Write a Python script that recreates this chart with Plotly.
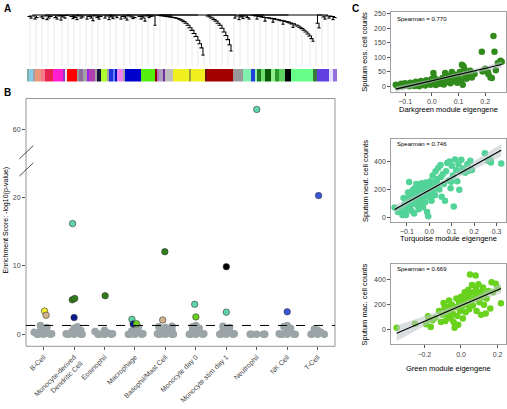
import numpy as np
import plotly.graph_objects as go

W, H = 507, 409
FONT = "Liberation Sans, Arial, Helvetica, sans-serif"


def px(x):
    return x / W


def py(y):
    return 1 - y / H


# ---------------- Panel A data: module colour bar and dendrogram ----------------
module_colors = ["#7fb0a6", "#87cdea", "#a3a3a3", "#e9967a", "#f47a8c", "#e8254f", "#ff1fd0", "#9932cc",
                 "#e6e6e6", "#ff0000", "#9a9a9a", "#8b6f9a", "#a3a3a3", "#a020f0", "#b040b0", "#a3a3a3",
                 "#14143c", "#adff2f", "#a3a3a3", "#2030e0", "#6080ff", "#0010c0", "#ee82ee", "#a3a3a3",
                 "#0000cd", "#55ee11", "#8b0000", "#c070c0", "#b0a0c0", "#7030a0", "#bebebe", "#f0f020",
                 "#a0a040", "#f0f020", "#701010", "#a40000", "#999999", "#80f0b0", "#2040e0", "#90f0b0",
                 "#1f7a1f", "#6fe06f", "#0a5a0a", "#8fef8f", "#2a9a2a", "#60d060", "#000000", "#66ff88",
                 "#3a7a3a", "#6040e0", "#e8e0ff", "#9370db"]
module_sizes = [1, 2, 1, 3, 2, 4, 5, 1, 1, 5, 1, 2, 2, 1, 3, 1, 2, 3, 1, 2, 1, 1, 3, 1, 8, 7, 1, 1, 2, 1,
                4, 8, 1, 7, 1, 13, 5, 4, 2, 1, 2, 2, 3, 2, 2, 3, 3, 11, 2, 6, 2, 2]

# merge heights between neighbouring leaves (1 - TOM)
fringe_left = [0.985, 0.97, 0.99, 0.96, 0.975, 1.0, 0.98, 0.965, 0.99, 0.955,
               0.97, 0.985, 1.0, 0.975, 0.96, 0.99, 0.95, 0.98, 0.97, 0.995,
               1.0, 0.985, 0.965, 0.975, 0.955, 0.99, 0.97, 0.98, 1.0, 0.96,
               0.985, 0.97, 0.945, 0.99, 0.975, 0.96, 0.985, 1.0, 0.97, 0.99,
               0.955, 0.98, 0.965, 0.99, 0.975, 1.0, 0.96, 0.985, 0.97, 0.95,
               0.99, 0.98, 0.965, 0.975, 1.0, 0.985, 0.96, 0.97, 0.94, 0.99,
               0.975, 0.985]
spike_left = [0.99, 0.90]
arc_yellow = [0.995, 0.992, 0.99, 0.987, 0.984, 0.981, 0.978, 0.975, 0.971, 0.966, 0.958, 0.948,
              0.935, 0.92, 0.9, 0.875, 0.85, 0.82, 0.79, 0.755, 0.72, 0.68, 0.61]
arc_darkred = [0.99, 0.98, 0.97, 0.955, 0.94, 0.92, 0.9, 0.87, 0.835, 0.8, 0.76, 0.71, 0.65]
fringe_mid = [0.97, 0.99, 0.955, 0.98, 0.965, 0.99, 0.975, 0.96]
arc_green = [0.995, 0.99, 0.96, 0.985, 0.98, 0.976, 0.94, 0.972, 0.968, 0.964, 0.93, 0.959, 0.954,
             0.949, 0.943, 0.91, 0.937, 0.93, 0.922, 0.913, 0.88, 0.903, 0.892, 0.88, 0.867, 0.852,
             0.835, 0.815, 0.795, 0.77, 0.745]
spike_right = [0.92, 0.875]
fringe_right = [0.98, 0.96, 0.99, 0.97, 0.985, 0.955, 0.975]
top_merge = [1.0]

# ---------------- Panel B data ----------------
cell_types = ["B-Cell", "Monocyte-derived<br>Dendritic Cell", "Eosinophil", "Macrophage",
              "Basophil/Mast Cell", "Monocyte day 0", "Monocyte stim day 1", "Neutrophil",
              "NK Cell", "T-Cell"]
gray_scores = [
    [0, 0, 0, 0, 0.1, 0.2, 0.3, 0.5, 0.8, 1.0, 1.3],
    [0, 0, 0, 0, 0, 0.1, 0.2, 0.4, 0.6, 0.9, 1.1],
    [0, 0, 0, 0, 0.1, 0.2, 0.4, 0.6],
    [0, 0, 0, 0, 0.1, 0.3, 0.5, 0.8, 1.0],
    [0, 0, 0, 0, 0, 0.1, 0.2, 0.4, 0.6, 0.8, 1.0, 1.1, 1.2],
    [0, 0, 0, 0, 0.1, 0.3, 0.5, 0.7, 0.9, 1.1, 1.3],
    [0, 0, 0, 0, 0.1, 0.3, 0.5, 0.8, 1.0, 1.2],
    [0, 0, 0, 0, 0],
    [0, 0, 0, 0, 0, 0.1, 0.3, 0.6, 0.9, 1.1, 1.3],
    [0, 0, 0, 0.1, 0.3, 0.6, 0.8],
]
sig_cell = [0, 0, 1, 1, 1, 1, 2, 3, 3, 3, 4, 4, 5, 5, 6, 6, 7, 8, 9]
sig_score = [3.4, 2.8, 16.2, 5.05, 5.25, 2.45, 5.65, 2.2, 1.5, 1.55, 12.1, 2.1, 4.4, 2.55, 9.9, 3.25,
             63.0, 3.3, 20.3]
sig_jitter = [0.03, 0.08, -0.05, -0.06, 0.02, 0.0, 0.02, -0.1, -0.06, 0.05, -0.02, -0.09, -0.04, 0.0,
              0.0, 0.0, 0.0, 0.0, 0.03]
sig_color = ["#f2ee2a", "#d2b48c", "#5fd4a6", "#2f7d18", "#2f7d18", "#0a1a8f", "#2f7d18", "#5fd4a6",
             "#0a1a8f", "#6ccf1e", "#2f7d18", "#d2b48c", "#5fd4a6", "#6ccf1e", "#000000", "#5fd4a6",
             "#5fd4a6", "#3a55d6", "#3a55d6"]
threshold = 1.3
lower_ticks = [0, 10, 20]
upper_ticks = [60]

# ---------------- Panel C data ----------------
eos_x = [-0.135, -0.128, -0.12, -0.115, -0.11, -0.105, -0.1, -0.095, -0.09, -0.085, -0.08, -0.078,
         -0.07, -0.065, -0.06, -0.058, -0.05, -0.047, -0.04, -0.038, -0.03, -0.025, -0.02, -0.018,
         -0.01, -0.005, 0.0, 0.003, 0.006, 0.009, 0.012, 0.015, 0.02, 0.025, 0.03, 0.035, 0.04, 0.045,
         0.05, 0.052, 0.055, 0.06, 0.065, 0.07, 0.075, 0.078, 0.08, 0.085, 0.09, 0.095, 0.1, 0.105,
         0.11, 0.113, 0.116, 0.119, 0.122, 0.125, 0.13, 0.135, 0.144, 0.15, 0.16, 0.1875, 0.19, 0.2,
         0.21, 0.212, 0.22, 0.225, 0.231, 0.235, 0.24, 0.2475, 0.2575, 0.262]
eos_y = [5, -1, 3, 8, 0, 4, 10, 2, 6, 0, 12, 3, 7, 1, 15, 4, 9, 0, 18, 6, 12, 2, 20, 8, 14, 5, 25, 10,
         45, 30, 16, 4, 22, 12, 8, 18, 28, 6, 45, 20, 14, 24, 35, 10, 49, 30, 18, 40, 26, 12, 35, 49, 20,
         74, 5, 69, 60, 38, 26, 45, 53, 30, 42, 119, 51, 60, 49, 42, 30, 28, 173, 119, 55, 80, 88, 84]
neut_x = [-0.155, -0.14, -0.135, -0.125, -0.12, -0.115, -0.11, -0.107, -0.104, -0.1, -0.098, -0.095,
          -0.092, -0.09, -0.088, -0.085, -0.082, -0.08, -0.078, -0.075, -0.072, -0.07, -0.068, -0.065,
          -0.062, -0.06, -0.058, -0.055, -0.052, -0.05, -0.048, -0.045, -0.042, -0.04, -0.038, -0.035,
          -0.032, -0.03, -0.028, -0.025, -0.022, -0.02, -0.018, -0.015, -0.012, -0.01, -0.008, -0.005,
          -0.003, 0.0, 0.003, 0.005, 0.008, 0.01, 0.012, 0.015, 0.018, 0.02, 0.025, 0.028, 0.03, 0.035,
          0.038, 0.04, 0.045, 0.05, 0.052, 0.055, 0.06, 0.065, 0.07, 0.075, 0.08, 0.085, 0.09, 0.095,
          0.098, 0.1, 0.105, 0.109, 0.115, 0.12, 0.125, 0.13, 0.134, 0.14, 0.143, 0.15, 0.16, 0.17,
          0.175, 0.183, 0.19, 0.248, 0.262, 0.272, 0.275, 0.321]
neut_y = [72, 40, 55, 62, 20, 140, 95, 38, 19, 132, 70, 180, 110, 255, 160, 85, 175, 50, 135, 195,
          100, 160, 30, 210, 120, 175, 240, 90, 150, 190, 60, 130, 220, 165, 100, 245, 180, 140, 75,
          200, 230, 155, 110, 250, 185, 40, 215, 10, 170, 235, 145, 260, 195, 120, 225, 300, 180, 250,
          160, 330, 210, 275, 240, 355, 200, 375, 290, 150, 310, 240, 120, 330, 390, 265, 400, 210,
          256, 370, 300, 80, 415, 340, 260, 380, 199, 330, 412, 350, 320, 380, 335, 405, 340, 459,
          405, 412, 393, 386]
mac_x = [-0.351, -0.251, -0.19, -0.18, -0.175, -0.165, -0.156, -0.14, -0.12, -0.109, -0.1, -0.095,
         -0.09, -0.085, -0.08, -0.075, -0.07, -0.065, -0.06, -0.055, -0.05, -0.045, -0.04, -0.035,
         -0.03, -0.025, -0.02, -0.015, -0.01, -0.005, 0.0, 0.005, 0.01, 0.015, 0.02, 0.025, 0.03,
         0.035, 0.04, 0.045, 0.049, 0.05, 0.055, 0.06, 0.065, 0.07, 0.075, 0.08, 0.082, 0.085, 0.09,
         0.095, 0.1, 0.105, 0.11, 0.115, 0.12, 0.125, 0.13, 0.135, 0.14, 0.15, 0.16, 0.167, 0.175,
         0.19, 0.2, 0.218]
mac_y = [16, 48, 43, 107, 88, 21, 75, 95, 150, 61, 120, 215, 175, 70, 140, 185, 110, 235, 165, 90,
         200, 130, 60, 16, 180, 250, 110, 40, 215, 150, 265, 185, 90, 230, 300, 140, 255, 200, 320,
         165, 443, 280, 230, 360, 195, 300, 250, 435, 330, 150, 280, 365, 220, 300, 120, 260, 340,
         200, 290, 130, 250, 310, 170, 381, 300, 370, 330, 213]
spearman = ["0.770", "0.746", "0.669"]

# =================================================================================
fig = go.Figure()

# ---------- Panel A ----------
leaf_colors = [c for c, n in zip(module_colors, module_sizes) for _ in range(n)]
N = len(leaf_colors)
gaps = (fringe_left + spike_left + top_merge + arc_yellow + top_merge + arc_darkred + top_merge +
        fringe_mid + top_merge + arc_green + top_merge + spike_right + top_merge + fringe_right)
gaps_arr = np.array(gaps)
NL = len(gaps) + 1
HANG = 0.006
seg_x, seg_y = [], []
leaf_bottom = {}


def build(l, r):
    if l == r:
        return float(l), None
    k = l + int(np.argmax(gaps_arr[l:r]))
    h = gaps_arr[k]
    lx, lh = build(l, k)
    rx, rh = build(k + 1, r)
    lb = lh if lh is not None else h - HANG
    rb = rh if rh is not None else h - HANG
    if lh is None:
        leaf_bottom[l] = lb
    if rh is None:
        leaf_bottom[r] = rb
    seg_x.extend([lx, lx, rx, rx, None])
    seg_y.extend([lb, h, h, rb, None])
    return (lx + rx) / 2, h


build(0, NL - 1)

gx, gy = [], []
for k in range(50):
    i = int((k + 0.5) * NL / 50)
    gx.extend([i, i, None])
    gy.extend([leaf_bottom.get(i, 0.95), 0.5, None])

fig.add_trace(go.Scatter(x=gx, y=gy, mode="lines", xaxis="x", yaxis="y",
                         line=dict(color="#dadada", width=0.6), hoverinfo="skip"))
fig.add_trace(go.Scatter(x=seg_x, y=seg_y, mode="lines", xaxis="x", yaxis="y",
                         line=dict(color="#000000", width=1.05), hoverinfo="skip"))
fig.add_trace(go.Bar(x=list(range(N)), y=[1] * N, width=1, marker=dict(color=leaf_colors, line=dict(width=0)),
                     xaxis="x2", yaxis="y2", hoverinfo="skip"))

# ---------- Panel B ----------
XPU = (335 - 26) / 10.15
YPU = 6.87


def swarm(vals):
    placed = []
    out = []
    for v in sorted(vals):
        chosen = None
        for cand in [0, 3.3, -3.3, 6.6, -6.6, 9.5, -9.5]:
            if all((cand - p) ** 2 + ((v - q) * YPU) ** 2 >= 3.5 ** 2 for p, q in placed):
                chosen = cand
                break
        if chosen is None:
            chosen = [2, -2, 5, -5, 8, -8][len(placed) % 6]
        placed.append((chosen, v))
        out.append((chosen / XPU, v))
    return out


grx, gry = [], []
for ci, vals in enumerate(gray_scores):
    for off, v in swarm(vals):
        grx.append(ci + off)
        gry.append(v)
fig.add_trace(go.Scatter(x=grx, y=gry, mode="markers", xaxis="x3", yaxis="y3",
                         marker=dict(size=7.5, color="#9ba5a7", line=dict(width=0)), hoverinfo="skip"))

lo_x, lo_y, lo_c, up_x, up_y, up_c = [], [], [], [], [], []
for c, s, j, col in zip(sig_cell, sig_score, sig_jitter, sig_color):
    if s > 40:
        up_x.append(c + j); up_y.append(s); up_c.append(col)
    else:
        lo_x.append(c + j); lo_y.append(s); lo_c.append(col)
fig.add_trace(go.Scatter(x=lo_x, y=lo_y, mode="markers", xaxis="x3", yaxis="y3",
                         marker=dict(size=6.5, color=lo_c, line=dict(width=0.6, color="#3a3a3a"))))
fig.add_trace(go.Scatter(x=up_x, y=up_y, mode="markers", xaxis="x3", yaxis="y4",
                         marker=dict(size=6.5, color=up_c, line=dict(width=0.6, color="#3a3a3a"))))

# ---------- Panel C ----------


def fit(x, y):
    x = np.asarray(x, float)
    y = np.asarray(y, float)
    n = len(x)
    b, a = np.polyfit(x, y, 1)
    xs = np.linspace(x.min(), x.max(), 80)
    yh = a + b * xs
    s = np.sqrt(((y - (a + b * x)) ** 2).sum() / (n - 2))
    sxx = ((x - x.mean()) ** 2).sum()
    se = s * np.sqrt(1 / n + (xs - x.mean()) ** 2 / sxx)
    return xs, yh, yh - 1.99 * se, yh + 1.99 * se


c_sets = [(eos_x, eos_y, "#318a1c", "5"), (neut_x, neut_y, "#52d398", "6"), (mac_x, mac_y, "#68d21c", "7")]
for xs_, ys_, col, ax in c_sets:
    fig.add_trace(go.Scatter(x=xs_, y=ys_, mode="markers", xaxis="x" + ax, yaxis="y" + ax,
                             marker=dict(size=6.5, color=col, line=dict(width=0))))
    fx, fy, flo, fhi = fit(xs_, ys_)
    fig.add_trace(go.Scatter(x=list(fx) + list(fx[::-1]), y=list(fhi) + list(flo[::-1]), mode="lines",
                             fill="toself", fillcolor="rgba(185,195,198,0.55)", line=dict(width=0),
                             xaxis="x" + ax, yaxis="y" + ax, hoverinfo="skip"))
    fig.add_trace(go.Scatter(x=fx, y=fy, mode="lines", line=dict(color="black", width=1.1),
                             xaxis="x" + ax, yaxis="y" + ax, hoverinfo="skip"))

# ---------- Layout ----------
tickfont = dict(family=FONT, size=7, color="#444444")
hidden = dict(visible=False, showgrid=False, zeroline=False)

lay = dict(
    width=W, height=H, autosize=False, margin=dict(l=0, r=0, t=0, b=0),
    paper_bgcolor="white", plot_bgcolor="white", showlegend=False, bargap=0,
    font=dict(family=FONT, size=7, color="black"),
    xaxis=dict(domain=[px(27), px(337)], range=[-0.5, NL - 0.5], anchor="y", fixedrange=True, **hidden),
    yaxis=dict(domain=[py(64.7), py(12)], range=[0.5, 1.0097], anchor="x", **hidden),
    xaxis2=dict(domain=[px(27), px(337)], range=[-0.5, N - 0.5], anchor="y2", **hidden),
    yaxis2=dict(domain=[py(80), py(67)], range=[0, 1], anchor="x2", **hidden),
    xaxis3=dict(domain=[px(26), px(335)], range=[-0.58, 9.57], anchor="y3", tickvals=list(range(10)),
                ticktext=cell_types, tickangle=-45, ticks="outside", ticklen=3, tickcolor="#555",
                tickfont=tickfont, showgrid=False, zeroline=False, showline=False),
    yaxis3=dict(domain=[py(346), py(160)], range=[-1.75, 25.33], anchor="x3", tickvals=lower_ticks,
                ticks="outside", ticklen=3, tickcolor="#555", tickfont=tickfont, showgrid=False,
                zeroline=False, showline=False),
    yaxis4=dict(domain=[py(160), py(97)], range=[55.4, 64.6], anchor="x3", tickvals=upper_ticks,
                ticks="outside", ticklen=3, tickcolor="#555", tickfont=tickfont, showgrid=False,
                zeroline=False, showline=False),
)

c_dom = [((391, 505.7), (10, 90.7), (-0.153, 0.277), (-21, 256), [-0.2, -0.1, 0, 0.1, 0.2], [0, 50, 100, 150, 200, 250]),
         ((391, 505.7), (138, 221), (-0.171, 0.341), (-30, 558), [-0.1, 0, 0.1, 0.2, 0.3], [0, 200, 400]),
         ((391, 505.7), (263.3, 344), (-0.382, 0.244), (-118, 528), [-0.2, 0, 0.2], [0, 200, 400])]
for n, (xd, yd, xr, yr, xt, yt) in zip(["5", "6", "7"], c_dom):
    lay["xaxis" + n] = dict(domain=[px(xd[0]), px(xd[1])], range=list(xr), anchor="y" + n, tickvals=xt,
                            tickformat=".1f", ticks="outside", ticklen=3, tickcolor="#555",
                            tickfont=tickfont, showline=True, mirror=True, linecolor="#888", linewidth=0.8,
                            showgrid=False, zeroline=False)
    lay["yaxis" + n] = dict(domain=[py(yd[1]), py(yd[0])], range=list(yr), anchor="x" + n, tickvals=yt,
                            ticks="outside", ticklen=3, tickcolor="#555", tickfont=tickfont,
                            showline=True, mirror=True, linecolor="#888", linewidth=0.8,
                            showgrid=False, zeroline=False)

shapes = [
    dict(type="rect", xref="paper", yref="paper", x0=px(26), x1=px(335), y0=py(346), y1=py(97),
         line=dict(color="#888", width=0.9)),
    dict(type="line", xref="paper", yref="y3", x0=px(26), x1=px(335), y0=threshold, y1=threshold,
         line=dict(color="black", width=1, dash="dash")),
    dict(type="line", xref="paper", yref="paper", x0=px(19.3), x1=px(33.3), y0=py(157.7), y1=py(144.3),
         line=dict(color="#222", width=0.8)),
    dict(type="line", xref="paper", yref="paper", x0=px(19.3), x1=px(33.3), y0=py(175), y1=py(161.7),
         line=dict(color="#222", width=0.8)),
]
lay["shapes"] = shapes


def ann(x, y, text, size=7, **kw):
    d = dict(x=px(x), y=py(y), xref="paper", yref="paper", text=text, showarrow=False,
             xanchor="center", yanchor="middle",
             font=dict(family=FONT, size=size, color=kw.pop("color", "black")))
    d.update(kw)
    return d


annotations = [
    ann(7, 6.5, "<b>A</b>", size=10),
    ann(7, 90.5, "<b>B</b>", size=10),
    ann(355.5, 6.5, "<b>C</b>", size=10),
    ann(5.5, 219, "Enrichment Score: -log10(p-value)", size=7, textangle=-90),
    ann(365, 50, "Sputum eos. cell counts", size=7.5, textangle=-90),
    ann(448, 108, "Darkgreen module eigengene", size=7.5),
    ann(365, 180, "Sputum neut. cell counts", size=7.5, textangle=-90),
    ann(448, 238, "Turquoise module eigengene", size=7.5),
    ann(365, 304, "Sputum mac. cell counts", size=7.5, textangle=-90),
    ann(448, 368, "Green module eigengene", size=7.5),
    ann(395, 17, "Spearman = " + spearman[0], size=6, xanchor="left"),
    ann(395, 143, "Spearman = " + spearman[1], size=6, xanchor="left"),
    ann(395, 268.5, "Spearman = " + spearman[2], size=6, xanchor="left"),
]
lay["annotations"] = annotations

fig.update_layout(**lay)
fig.write_html("out.html", config={"displayModeBar": False, "staticPlot": True},
               post_script="document.body.style.margin='0px';")
